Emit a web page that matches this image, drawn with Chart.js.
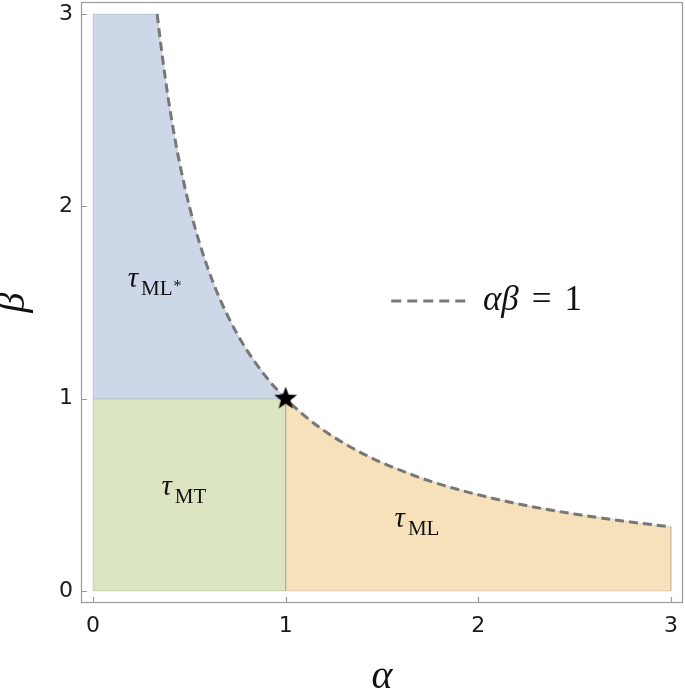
<!DOCTYPE html>
<html>
<head>
<meta charset="utf-8">
<script src="https://cdn.jsdelivr.net/npm/chart.js@4.4.1/dist/chart.umd.min.js"></script>
<style>
  html, body { margin: 0; padding: 0; background: #fff; }
  #chart { display: block; }
</style>
</head>
<body>
<canvas id="chart" width="685" height="691"></canvas>
<script>
// curve alpha*beta = 1
const alphaCurve = [0.333, 0.35, 0.375, 0.4, 0.425, 0.45, 0.5, 0.55, 0.6, 0.65, 0.7, 0.75, 0.8, 0.9, 1.0,
                    1.1, 1.2, 1.35, 1.5, 1.75, 2.0, 2.25, 2.5, 2.75, 3.0];
const betaCurve = [3.0, 2.857, 2.667, 2.5, 2.353, 2.222, 2.0, 1.818, 1.667, 1.538, 1.429, 1.333, 1.25, 1.111, 1.0,
                   0.909, 0.833, 0.741, 0.667, 0.571, 0.5, 0.444, 0.4, 0.364, 0.333];

const tickVals = [0, 1, 2, 3];
const axisMin = -0.0625;
const axisMax = 3.0625;
const starPoint = [1, 1];

const regionLabels = [
  { main: 'τ', sub: 'ML', sup: '*', x: 0.18, y: 1.58 },
  { main: 'τ', sub: 'MT', sup: '',  x: 0.355, y: 0.5 },
  { main: 'τ', sub: 'ML', sup: '',  x: 1.565, y: 0.335 }
];

const curve = alphaCurve.map((a, i) => ({ x: a, y: betaCurve[i] }));

// regions built from the curve
const blueRegion = [{ x: 0, y: 1 }, { x: 0, y: 3 }]
  .concat(curve.filter(p => p.x <= 1))
  .concat([{ x: 0, y: 1 }]);
const greenRegion = [{ x: 0, y: 0 }, { x: 0, y: 1 }, { x: 1, y: 1 }, { x: 1, y: 0 }, { x: 0, y: 0 }];
const orangeRegion = [{ x: 1, y: 0 }]
  .concat(curve.filter(p => p.x >= 1))
  .concat([{ x: 3, y: 0 }, { x: 1, y: 0 }]);

function makeStar(r) {
  const c = document.createElement('canvas');
  c.width = c.height = r * 2 + 2;
  const g = c.getContext('2d');
  g.translate(r + 1, r + 1);
  g.beginPath();
  for (let i = 0; i < 10; i++) {
    const rad = i % 2 === 0 ? r : r * 0.42;
    const ang = -Math.PI / 2 + i * Math.PI / 5;
    g.lineTo(rad * Math.cos(ang), rad * Math.sin(ang));
  }
  g.closePath();
  g.fillStyle = '#000';
  g.fill();
  return c;
}

const edgeColor = 'rgba(110,110,110,0.2)';

function region(data, color, order) {
  return {
    data: data,
    showLine: true,
    fill: 'shape',
    backgroundColor: color,
    borderColor: edgeColor,
    borderWidth: 1,
    pointRadius: 0,
    tension: 0,
    order: order
  };
}

// keep the plot frame where the reference has it
function noPad(s) {
  s.paddingLeft = s.paddingRight = s.paddingTop = s.paddingBottom = 0;
}

const framePlugin = {
  id: 'frame',
  afterDraw(chart) {
    const ctx = chart.ctx;
    const a = chart.chartArea;
    const xs = chart.scales.x, ys = chart.scales.y;
    ctx.save();
    ctx.strokeStyle = '#9c9c9c';
    ctx.lineWidth = 1.2;
    ctx.strokeRect(Math.round(a.left) + 0.5, Math.round(a.top) + 0.5,
      Math.round(a.right - a.left) - 1, Math.round(a.bottom - a.top) - 1);
    ctx.beginPath();
    tickVals.forEach(v => {
      const px = Math.round(xs.getPixelForValue(v)) + 0.5;
      ctx.moveTo(px, a.bottom);
      ctx.lineTo(px, a.bottom - 6);
      const py = Math.round(ys.getPixelForValue(v)) + 0.5;
      ctx.moveTo(a.left, py);
      ctx.lineTo(a.left + 6, py);
    });
    ctx.stroke();

    // region labels
    ctx.fillStyle = '#111';
    ctx.textBaseline = 'alphabetic';
    regionLabels.forEach(l => {
      let x = xs.getPixelForValue(l.x);
      const y = ys.getPixelForValue(l.y);
      ctx.font = 'italic 29px "Liberation Serif"';
      ctx.fillText(l.main, x, y);
      x += ctx.measureText(l.main).width + 3;
      ctx.font = '21px "Liberation Serif"';
      ctx.fillText(l.sub, x, y + 8);
      x += ctx.measureText(l.sub).width;
      if (l.sup) {
        ctx.font = '16px "Liberation Serif"';
        ctx.fillText(l.sup, x + 1, y + 4);
      }
    });

    // legend
    const lx0 = xs.getPixelForValue(1.548), lx1 = xs.getPixelForValue(1.943);
    const ly = ys.getPixelForValue(1.508);
    ctx.strokeStyle = '#777';
    ctx.lineWidth = 3;
    ctx.setLineDash([10, 6]);
    ctx.beginPath();
    ctx.moveTo(lx0, ly);
    ctx.lineTo(lx1, ly);
    ctx.stroke();
    ctx.setLineDash([]);
    let tx = xs.getPixelForValue(2.024);
    const ty = ly + 9;
    ctx.fillStyle = '#111';
    ctx.font = 'italic 35px "Liberation Serif"';
    ctx.fillText('αβ', tx, ty);
    tx += ctx.measureText('αβ').width + 13;
    ctx.font = '35px "Liberation Serif"';
    ctx.fillText('=', tx, ty);
    tx += ctx.measureText('=').width + 13;
    ctx.fillText('1', tx, ty);
    ctx.restore();
  }
};

new Chart(document.getElementById('chart'), {
  type: 'scatter',
  data: {
    datasets: [
      {
        data: [{ x: starPoint[0], y: starPoint[1] }],
        pointStyle: makeStar(12),
        pointRadius: 12,
        order: 0
      },
      {
        data: curve,
        showLine: true,
        fill: false,
        borderColor: '#777777',
        borderWidth: 3,
        borderDash: [9, 5],
        pointRadius: 0,
        cubicInterpolationMode: 'monotone',
        order: 1
      },
      region(blueRegion, '#cdd7e8', 2),
      region(greenRegion, '#dbe5c2', 3),
      region(orangeRegion, '#f6e1bb', 4)
    ]
  },
  options: {
    responsive: false,
    animation: false,
    devicePixelRatio: 1,
    layout: { autoPadding: false, padding: { left: 0, right: 2, top: 2, bottom: 0 } },
    plugins: { legend: { display: false }, tooltip: { enabled: false } },
    scales: {
      x: {
        type: 'linear',
        min: axisMin,
        max: axisMax,
        afterBuildTicks: s => { s.ticks = tickVals.map(v => ({ value: v })); },
        afterFit: s => { s.height = 88; noPad(s); },
        grid: { display: false, drawTicks: false },
        border: { display: false },
        ticks: { color: '#1a1a1a', padding: 10, font: { family: 'DejaVu Sans', size: 22 } },
        title: {
          display: true, text: 'α', color: '#111',
          font: { family: 'Liberation Serif', size: 40, style: 'italic', lineHeight: 0.7 },
          padding: { top: 0, bottom: 0 }
        }
      },
      y: {
        type: 'linear',
        min: axisMin,
        max: axisMax,
        afterBuildTicks: s => { s.ticks = tickVals.map(v => ({ value: v })); },
        afterFit: s => { s.width = 81; noPad(s); },
        grid: { display: false, drawTicks: false },
        border: { display: false },
        ticks: { color: '#1a1a1a', padding: 8, font: { family: 'DejaVu Sans', size: 22 } },
        title: {
          display: true, text: 'β', color: '#111',
          font: { family: 'Liberation Serif', size: 40, style: 'italic', lineHeight: 0.65 },
          padding: { top: 0, bottom: 0 }
        }
      }
    }
  },
  plugins: [framePlugin]
});
</script>
</body>
</html>
